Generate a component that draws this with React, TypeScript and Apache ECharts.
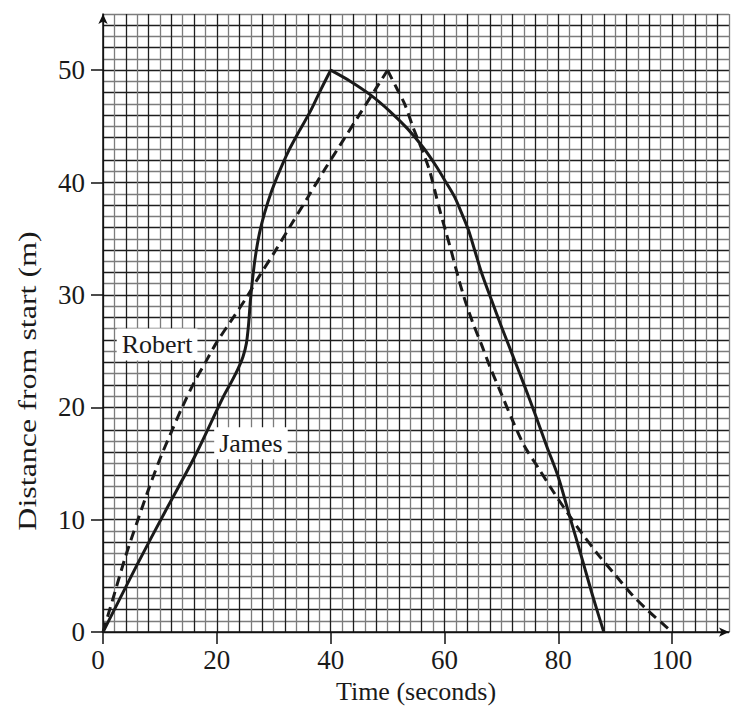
import React, { useEffect, useRef } from "react";
import * as echarts from "echarts";

const xTickValues = [0, 20, 40, 60, 80, 100];
const yTickValues = [0, 10, 20, 30, 40, 50];
const X_MAX = 110;
const Y_MAX = 55;
const X_GRID_STEP = 2;
const Y_GRID_STEP = 1;

// James (solid): rising part and falling part
const jamesRise: [number, number][] = [
  [0, 0], [6, 6], [11, 10.8], [16.1, 15.6], [21.1, 20.9], [22.5, 22.2], [23.7, 23.4],
  [24.6, 24.5], [25.2, 25.7], [25.6, 27.5], [25.9, 29.5], [26.3, 31.5], [26.8, 33.5],
  [27.5, 35.5], [28.4, 37.3], [29.6, 39.2], [31, 41], [32.6, 42.8], [34.5, 44.6],
  [36.5, 46.4], [38.3, 48.3], [40, 50],
];
const jamesFall: [number, number][] = [
  [40, 50], [43.5, 49], [47, 47.8], [50.5, 46.3], [53.5, 44.8], [56.3, 43.1], [58.5, 41.5],
  [60.3, 40], [61.8, 38.7], [63, 37.3], [64.2, 35.8], [65.3, 34], [66.5, 32], [68.3, 29.5],
  [70, 27.2], [72, 24.6], [74, 22], [76, 19.3], [78, 16.5], [80, 13.8], [82, 10.3],
  [84.2, 6.5], [86, 3.3], [88, 0],
];

// Robert (dashed): rising part and falling part
const robertRise: [number, number][] = [
  [0, 0], [2, 3.4], [4, 6.8], [6, 9.8], [8, 12.7], [10, 15.4], [12, 17.8], [14, 20.1],
  [16, 22.2], [18, 24], [20, 25.8], [22.5, 27.7], [25, 29.6], [27.5, 31.7], [30, 33.7],
  [33, 36.2], [36, 38.7], [39, 41.2], [42, 43.6], [45, 46], [48, 48.4], [50, 50],
];
const robertFall: [number, number][] = [
  [50, 50], [51.5, 48.5], [53, 47], [54.5, 44.9], [56, 43], [57.3, 41.2], [58.3, 39.3],
  [59.2, 37.5], [60.2, 35.7], [61.2, 33.9], [62.3, 31.8], [63.5, 29.7], [65, 27.5],
  [66.5, 25.6], [68, 23.6], [70, 21.2], [72, 18.8], [74, 16.6], [76.5, 14.6], [79, 12.6],
  [81.5, 10.7], [84, 8.9], [87, 6.9], [90, 5.1], [93, 3.3], [96, 1.8], [98, 0.9], [100, 0],
];

// label anchors (data coordinates)
const robertLabel = { text: "Robert", at: [9.5, 25.6] };
const jamesLabel = { text: "James", at: [26.0, 16.8] };
const xName = "Time (seconds)";
const yName = "Distance from start (m)";

const FONT = "'Liberation Serif', 'Times New Roman', serif";
const INK = "#1a1a1a";
const GRID_COLORS = ["#1e1e1e", "#7c7c7c"];

export default function App() {
  const ref = useRef<HTMLDivElement>(null);
  useEffect(() => {
    if (!ref.current) return;
    const chart = echarts.init(ref.current, undefined, { renderer: "svg" });
    const lineSeries = (data: [number, number][], dashed: boolean) => ({
      type: "line",
      data,
      xAxisIndex: 0,
      yAxisIndex: 0,
      showSymbol: false,
      symbol: "none",
      smooth: 0.3,
      lineStyle: { color: INK, width: 3, type: dashed ? [10, 6] : "solid", cap: "butt", join: "miter" },
      z: 5,
    });
    const axisLine = {
      show: true,
      onZero: false,
      symbol: ["none", "arrow"],
      symbolSize: [7, 10],
      lineStyle: { color: "#111", width: 1.5 },
    };
    chart.setOption({
      animation: false,
      backgroundColor: "#fff",
      grid: { left: 103, right: 5, top: 14, bottom: 73 },
      xAxis: [
        {
          type: "value",
          min: 0,
          max: X_MAX,
          interval: X_GRID_STEP,
          axisLine: { show: false },
          axisTick: { show: false },
          axisLabel: { show: false },
          splitLine: { show: true, lineStyle: { color: GRID_COLORS, width: 1.3 } },
        },
        {
          type: "value",
          min: 0,
          max: X_MAX,
          position: "bottom",
          name: xName,
          nameLocation: "middle",
          nameGap: 40,
          nameTextStyle: { fontFamily: FONT, fontSize: 26, color: INK },
          axisLine,
          axisTick: { show: true, customValues: xTickValues, length: 12, lineStyle: { color: "#111", width: 1.5 } },
          axisLabel: {
            customValues: xTickValues,
            margin: 14,
            fontFamily: FONT,
            fontSize: 27,
            color: INK,
            formatter: (v: number) => (v === 0 ? "{z|0}" : String(v)),
            rich: { z: { fontFamily: FONT, fontSize: 27, color: INK, padding: [0, 10, 0, 0] } },
          },
          splitLine: { show: false },
        },
      ],
      yAxis: [
        {
          type: "value",
          min: 0,
          max: Y_MAX,
          interval: Y_GRID_STEP,
          axisLine: { show: false },
          axisTick: { show: false },
          axisLabel: { show: false },
          splitLine: { show: true, lineStyle: { color: GRID_COLORS, width: 1.3 } },
        },
        {
          type: "value",
          min: 0,
          max: Y_MAX,
          position: "left",
          axisLine,
          axisTick: { show: true, customValues: yTickValues, length: 12, lineStyle: { color: "#111", width: 1.5 } },
          axisLabel: { customValues: yTickValues, margin: 18, fontFamily: FONT, fontSize: 27, color: INK },
          splitLine: { show: false },
        },
      ],
      series: [
        lineSeries(jamesRise, false),
        lineSeries(jamesFall, false),
        lineSeries(robertRise, true),
        lineSeries(robertFall, true),
      ],
    });
    const place = (l: { text: string; at: number[] }) => {
      const p = chart.convertToPixel({ gridIndex: 0 }, l.at) as number[];
      return {
        type: "text",
        x: p[0],
        y: p[1],
        z: 10,
        style: {
          text: l.text,
          font: `26px ${FONT}`,
          fill: INK,
          align: "center",
          verticalAlign: "middle",
          backgroundColor: "#fff",
          padding: [3, 5, 3, 5],
        },
      };
    };
    chart.setOption({
      graphic: [
        place(robertLabel),
        place(jamesLabel),
        {
          type: "text",
          x: 27,
          y: 381,
          rotation: Math.PI / 2,
          scaleX: 1.28,
          style: {
            text: yName,
            font: `25px ${FONT}`,
            fill: INK,
            align: "center",
            verticalAlign: "middle",
          },
        },
      ],
    });
    return () => chart.dispose();
  }, []);
  return <div ref={ref} style={{ position: "absolute", left: 0, top: 0, width: 734, height: 709 }} />;
}
